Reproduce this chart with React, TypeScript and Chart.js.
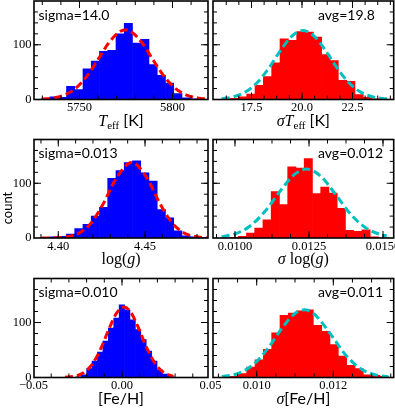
import React, { useEffect, useRef } from 'react';
import { Chart, registerables } from 'chart.js';
Chart.register(...registerables);

// ---------------- data ----------------
const TEFF_BINS = [5731.92, 5736.36, 5740.79, 5745.23, 5749.66, 5754.10, 5758.53, 5762.97, 5767.40, 5771.84, 5776.27, 5780.71, 5785.14, 5789.58, 5794.01, 5798.45, 5802.88, 5807.32, 5811.75, 5816.19];
const TEFF_COUNTS = [2, 5, 4, 24, 18, 56, 70, 88, 90, 120, 139, 103, 110, 64, 44, 30, 11, 3, 1, 0];
const TEFF_FIT_X = [5730, 5736, 5742, 5748, 5754, 5760, 5766, 5772, 5775, 5778, 5784, 5790, 5796, 5802, 5808, 5814, 5818];
const TEFF_FIT_Y = [0.8, 2.8, 8.3, 20.6, 42.6, 73.2, 104.7, 124.7, 127, 123.5, 101.9, 69.9, 39.9, 19.0, 7.5, 2.5, 1.1];

const STEFF_BINS = [16.231, 16.643, 17.056, 17.468, 17.881, 18.293, 18.705, 19.118, 19.530, 19.943, 20.355, 20.767, 21.180, 21.592, 22.005, 22.417, 22.829, 23.242, 23.654, 24.067];
const STEFF_COUNTS = [1, 2, 5, 10, 26, 42, 67, 111, 108, 124, 123, 114, 82, 71, 35, 33, 9, 4, 1, 0];
const STEFF_FIT_X = [16.03, 16.6, 17.2, 17.8, 18.4, 19.0, 19.5, 20.05, 20.6, 21.1, 21.7, 22.3, 22.9, 23.5, 24.1, 24.28];
const STEFF_FIT_Y = [1.5, 4.8, 13.6, 31.4, 59.7, 93.1, 115.9, 126, 115.9, 93.1, 59.7, 31.4, 13.6, 4.8, 1.4, 0.9];

const LOGG_BINS = [4.39281, 4.39757, 4.40233, 4.40708, 4.41184, 4.41660, 4.42136, 4.42612, 4.43087, 4.43563, 4.44039, 4.44515, 4.44991, 4.45466, 4.45942, 4.46418, 4.46894, 4.47370, 4.47845, 4.48321];
const LOGG_COUNTS = [1, 2, 3, 7, 17, 25, 40, 56, 109, 123, 138, 141, 119, 104, 52, 37, 13, 4, 2, 1];
const LOGG_FIT_X = [4.3904, 4.398, 4.405, 4.412, 4.419, 4.426, 4.433, 4.4423, 4.451, 4.458, 4.465, 4.472, 4.479, 4.4856];
const LOGG_FIT_Y = [0.05, 0.4, 2.2, 9.1, 27.7, 62.9, 106.8, 138, 110.3, 66.5, 30.1, 10.1, 2.6, 0.5];

const SLOGG_BINS = [0.0096900, 0.0099687, 0.0102474, 0.0105261, 0.0108048, 0.0110835, 0.0113622, 0.0116409, 0.0119196, 0.0121983, 0.0124770, 0.0127557, 0.0130344, 0.0133131, 0.0135918, 0.0138705, 0.0141492, 0.0144279, 0.0147066, 0.0149853];
const SLOGG_COUNTS = [0, 1, 3, 9, 18, 33, 85, 61, 130, 128, 145, 81, 93, 82, 54, 14, 12, 15, 2, 0];
const SLOGG_FIT_X = [0.00955, 0.0100, 0.0105, 0.0110, 0.0115, 0.0120, 0.01242, 0.0129, 0.0134, 0.0139, 0.0144, 0.0149, 0.015125];
const SLOGG_FIT_Y = [2.4, 7.5, 21.5, 47.8, 83.9, 115.8, 126, 112.8, 79.4, 44.0, 19.2, 6.6, 3.7];

const FEH_BINS = [-0.03068, -0.02762, -0.02456, -0.02150, -0.01845, -0.01539, -0.01233, -0.00927, -0.00621, -0.00315, -0.00009, 0.00297, 0.00603, 0.00909, 0.01215, 0.01521, 0.01826, 0.02132, 0.02438, 0.02744];
const FEH_COUNTS = [0, 0, 1, 5, 16, 30, 46, 66, 90, 108, 132, 123, 105, 87, 69, 48, 30, 14, 6, 2];
const FEH_FIT_X = [-0.0322, -0.027, -0.022, -0.017, -0.012, -0.007, -0.003, 0.0011, 0.005, 0.009, 0.014, 0.019, 0.024, 0.029];
const FEH_FIT_Y = [0.4, 2.1, 8.0, 23.2, 52.4, 91.0, 117.3, 128, 118.3, 92.5, 53.8, 24.1, 8.3, 2.2];

const SFEH_BINS = [0.0091950, 0.0094125, 0.0096300, 0.0098475, 0.0100650, 0.0102825, 0.0105000, 0.0107175, 0.0109350, 0.0111525, 0.0113700, 0.0115875, 0.0118050, 0.0120225, 0.0122400, 0.0124575, 0.0126750, 0.0128925, 0.0131100, 0.0133275];
const SFEH_COUNTS = [0, 2, 7, 19, 32, 51, 81, 113, 117, 121, 123, 95, 84, 60, 39, 22, 16, 5, 4, 2];
const SFEH_FIT_X = [0.00909, 0.0095, 0.0099, 0.0103, 0.0107, 0.0110, 0.01124, 0.0115, 0.0119, 0.0123, 0.0127, 0.0131, 0.013436];
const SFEH_FIT_Y = [1.6, 7.2, 22.8, 53.7, 93.6, 116.5, 123, 115.4, 81.7, 42.9, 16.6, 4.8, 1.3];

const TEFF_TICKS = [5750, 5800];
const TEFF_TICK_LABELS = ['5750', '5800'];
const STEFF_TICKS = [17.5, 20.0, 22.5];
const STEFF_TICK_LABELS = ['17.5', '20.0', '22.5'];
const LOGG_TICKS = [4.40, 4.45];
const LOGG_TICK_LABELS = ['4.40', '4.45'];
const SLOGG_TICKS = [0.0100, 0.0125, 0.0150];
const SLOGG_TICK_LABELS = ['0.0100', '0.0125', '0.0150'];
const FEH_TICKS = [-0.05, 0.0, 0.05];
const FEH_TICK_LABELS = ['\u22120.05', '0.00', '0.05'];
const SFEH_TICKS = [0.010, 0.012];
const SFEH_TICK_LABELS = ['0.010', '0.012'];
const Y_TICKS = [0, 100];
const Y_TICK_LABELS = ['0', '100'];
const NOTES = ['sigma=14.0', 'avg=19.8', 'sigma=0.013', 'avg=0.012', 'sigma=0.010', 'avg=0.011'];

// ---------------- styling / layout ----------------
const W = 395, H = 411;
const XH = 22; // x-axis box height
const YW = 30; // y-axis box width (left panels)
const SERIF = '"Liberation Serif", "DejaVu Serif", serif';
const SANS = 'Lato, "DejaVu Sans", sans-serif';
const MI = `italic 16px ${SERIF}`;
const MR = `16px ${SERIF}`;
const SUB = `11px ${SERIF}`;
const SS = `16px ${SANS}`;
const BLUE = '#0000ff', RED = '#ff0000', CYAN = '#00bfbf';
const COLS = [[34, 208], [213, 393.7]];
const ROWS = [[1, 99.5], [139.5, 238], [278.5, 377.5]];

type Seg = { t: string; f: string; dy?: number };

const PANELS = [
  { row: 0, col: 0, xMin: 5725.54, xMax: 5819.09, bins: TEFF_BINS, counts: TEFF_COUNTS, fx: TEFF_FIT_X, fy: TEFF_FIT_Y, bar: BLUE, fit: RED, ticks: TEFF_TICKS, labels: TEFF_TICK_LABELS, minor: 10, note: NOTES[0],
    title: [{ t: 'T', f: MI }, { t: 'eff', f: SUB, dy: 3 }, { t: ' [K]', f: SS }] as Seg[] },
  { row: 0, col: 1, xMin: 15.594, xMax: 24.54, bins: STEFF_BINS, counts: STEFF_COUNTS, fx: STEFF_FIT_X, fy: STEFF_FIT_Y, bar: RED, fit: CYAN, ticks: STEFF_TICKS, labels: STEFF_TICK_LABELS, minor: 0.625, note: NOTES[1],
    title: [{ t: '\u03c3', f: MI }, { t: 'T', f: MI }, { t: 'eff', f: SUB, dy: 3 }, { t: ' [K]', f: SS }] as Seg[] },
  { row: 1, col: 0, xMin: 4.38599, xMax: 4.48633, bins: LOGG_BINS, counts: LOGG_COUNTS, fx: LOGG_FIT_X, fy: LOGG_FIT_Y, bar: BLUE, fit: RED, ticks: LOGG_TICKS, labels: LOGG_TICK_LABELS, minor: 0.01, note: NOTES[2],
    title: [{ t: 'log(', f: MR }, { t: 'g', f: MI }, { t: ')', f: MR }] as Seg[] },
  { row: 1, col: 1, xMin: 0.009257, xMax: 0.015361, bins: SLOGG_BINS, counts: SLOGG_COUNTS, fx: SLOGG_FIT_X, fy: SLOGG_FIT_Y, bar: RED, fit: CYAN, ticks: SLOGG_TICKS, labels: SLOGG_TICK_LABELS, minor: 0.000625, note: NOTES[3],
    title: [{ t: '\u03c3', f: MI }, { t: ' log(', f: MR }, { t: 'g', f: MI }, { t: ')', f: MR }] as Seg[] },
  { row: 2, col: 0, xMin: -0.049718, xMax: 0.048588, bins: FEH_BINS, counts: FEH_COUNTS, fx: FEH_FIT_X, fy: FEH_FIT_Y, bar: BLUE, fit: RED, ticks: FEH_TICKS, labels: FEH_TICK_LABELS, minor: 0.01, note: NOTES[4],
    title: [{ t: '[Fe/H]', f: SS }] as Seg[] },
  { row: 2, col: 1, xMin: 0.008859, xMax: 0.013577, bins: SFEH_BINS, counts: SFEH_COUNTS, fx: SFEH_FIT_X, fy: SFEH_FIT_Y, bar: RED, fit: CYAN, ticks: SFEH_TICKS, labels: SFEH_TICK_LABELS, minor: 0.0005, note: NOTES[5],
    title: [{ t: '\u03c3', f: MI }, { t: '[Fe/H]', f: SS }] as Seg[] },
];

function minorValues(anchor: number, step: number, min: number, max: number) {
  const out: number[] = [];
  const k0 = Math.ceil((min - anchor) / step - 1e-9);
  for (let k = k0; anchor + k * step <= max + step * 1e-6; k++) out.push(anchor + k * step);
  return out;
}

function drawRich(ctx: CanvasRenderingContext2D, segs: Seg[], cx: number, baseline: number) {
  const widths = segs.map((s) => { ctx.font = s.f; return ctx.measureText(s.t).width; });
  const total = widths.reduce((a, b) => a + b, 0);
  let x = cx - total / 2;
  ctx.textAlign = 'left';
  ctx.textBaseline = 'alphabetic';
  segs.forEach((s, i) => { ctx.font = s.f; ctx.fillText(s.t, x, baseline + (s.dy || 0)); x += widths[i]; });
}

function makePlugin(p: any) {
  return {
    id: 'panelDeco',
    afterDatasetsDraw(chart: any) {
      const { ctx, chartArea: a } = chart;
      const xs = chart.scales.x, ys = chart.scales.y;
      ctx.save();
      ctx.strokeStyle = '#000';
      ctx.lineWidth = 1;
      const xt = (v: number, len: number) => {
        const px = xs.getPixelForValue(v);
        if (px < a.left + 1 || px > a.right - 1) return;
        ctx.beginPath();
        ctx.moveTo(px, a.bottom); ctx.lineTo(px, a.bottom - len);
        ctx.moveTo(px, a.top); ctx.lineTo(px, a.top + len);
        ctx.stroke();
      };
      const yt = (v: number, len: number) => {
        const py = ys.getPixelForValue(v);
        if (py < a.top + 1 || py > a.bottom - 1) return;
        ctx.beginPath();
        ctx.moveTo(a.left, py); ctx.lineTo(a.left + len, py);
        ctx.moveTo(a.right, py); ctx.lineTo(a.right - len, py);
        ctx.stroke();
      };
      minorValues(p.ticks[0], p.minor, p.xMin, p.xMax).forEach((v) => xt(v, 4));
      p.ticks.forEach((v: number) => xt(v, 7));
      minorValues(0, 20, 0, 180).forEach((v) => yt(v, 4));
      Y_TICKS.forEach((v) => yt(v, 7));
      ctx.lineWidth = 1.6;
      ctx.strokeRect(a.left, a.top, a.right - a.left, a.bottom - a.top);
      ctx.restore();
    },
    afterDraw(chart: any) {
      const { ctx, chartArea: a } = chart;
      ctx.save();
      ctx.fillStyle = '#000';
      ctx.font = `14px ${SANS}`;
      ctx.textAlign = 'left';
      ctx.textBaseline = 'alphabetic';
      const nx = p.col === 0 ? a.left + 4.5 : 318;
      ctx.fillText(p.note, nx, a.top + 18.5);
      drawRich(ctx, p.title, (a.left + a.right) / 2, a.bottom + 26);
      if (p.row === 1 && p.col === 0) {
        ctx.save();
        ctx.translate(12, 208);
        ctx.rotate(-Math.PI / 2);
        ctx.font = `13px ${SANS}`;
        ctx.textAlign = 'center';
        ctx.fillText('count', 0, 0);
        ctx.restore();
      }
      ctx.restore();
    },
  };
}

function makeConfig(p: any) {
  const [l, r] = COLS[p.col];
  const [t, b] = ROWS[p.row];
  const yw = p.col === 0 ? YW : 0;
  return {
    type: 'bar',
    data: {
      datasets: [
        {
          type: 'line',
          data: p.fx.map((x: number, i: number) => ({ x, y: p.fy[i] })),
          borderColor: p.fit,
          borderWidth: 3,
          borderDash: [8, 4],
          pointRadius: 0,
          fill: false,
          cubicInterpolationMode: 'monotone',
          order: 0,
        },
        {
          type: 'bar',
          data: p.bins.map((x: number, i: number) => ({ x, y: p.counts[i] })),
          backgroundColor: p.bar,
          borderWidth: 0,
          barPercentage: 1,
          categoryPercentage: 1,
          order: 1,
        },
      ],
    },
    options: {
      animation: false,
      responsive: false,
      events: [],
      layout: { padding: { left: l - yw, top: t, right: W - r, bottom: H - b - XH } },
      plugins: { legend: { display: false }, tooltip: { enabled: false } },
      scales: {
        x: {
          type: 'linear',
          min: p.xMin,
          max: p.xMax,
          bounds: 'data',
          offset: false,
          grid: { display: false, drawTicks: false, offset: false },
          border: { display: false },
          ticks: {
            autoSkip: false,
            maxRotation: 0,
            padding: 1,
            color: '#000',
            font: { family: SERIF, size: 12.5 },
            callback: (_v: any, i: number) => p.labels[i],
          },
          afterBuildTicks: (s: any) => { s.ticks = p.ticks.map((v: number) => ({ value: v })); },
          afterFit: (s: any) => { s.height = XH; s.paddingLeft = 0; s.paddingRight = 0; },
        },
        y: {
          type: 'linear',
          min: 0,
          max: 180,
          bounds: 'data',
          display: p.col === 0,
          grid: { display: false, drawTicks: false },
          border: { display: false },
          ticks: {
            autoSkip: false,
            padding: 2.5,
            color: '#000',
            font: { family: SERIF, size: 12.5 },
            callback: (_v: any, i: number) => Y_TICK_LABELS[i],
          },
          afterBuildTicks: (s: any) => { s.ticks = Y_TICKS.map((v) => ({ value: v })); },
          afterFit: (s: any) => { s.width = yw; s.paddingTop = 0; s.paddingBottom = 0; },
        },
      },
    },
    plugins: [makePlugin(p)],
  };
}

function Panel({ p }: { p: any }) {
  const ref = useRef<HTMLCanvasElement>(null);
  useEffect(() => {
    if (!ref.current) return;
    const chart = new Chart(ref.current, makeConfig(p) as any);
    return () => chart.destroy();
  }, []);
  return (
    <canvas
      ref={ref}
      width={W}
      height={H}
      style={{ position: 'absolute', left: 0, top: 0, width: W, height: H }}
    />
  );
}

export default function App() {
  return (
    <div style={{ position: 'absolute', left: 0, top: 0, width: W, height: H, background: '#fff', overflow: 'hidden' }}>
      {PANELS.map((p, i) => <Panel key={i} p={p} />)}
    </div>
  );
}
